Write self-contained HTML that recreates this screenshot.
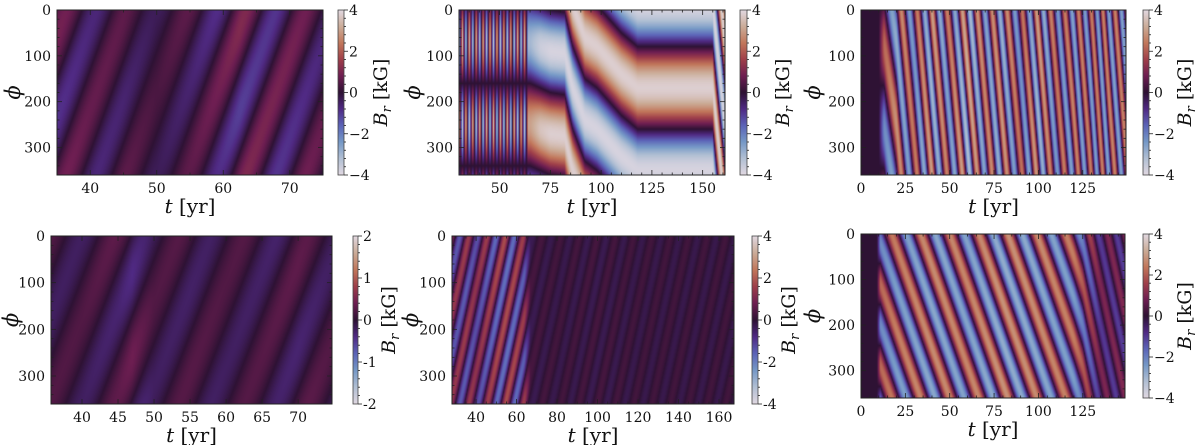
<!DOCTYPE html>
<html><head><meta charset="utf-8">
<style>
html,body{margin:0;padding:0;background:#fff;}
#fig{position:relative;width:1200px;height:445px;overflow:hidden;}
canvas{position:absolute;}
svg{position:absolute;left:0;top:0;}
text{font-family:"DejaVu Serif","Liberation Serif",serif;fill:#111;}
</style></head>
<body>
<div id="fig">
<svg id="ov" width="1200" height="445"></svg>
</div>
<script>
// ---------- Panel data ----------
// panel 1 (top-left)
const p1Times = [35, 40, 45, 50, 55, 60, 62.5, 65, 70, 75];
const p1Amp   = [0.9, 0.7, 0.6, 0.35, 0.6, 0.9, 1.1, 1.0, 0.9, 0.7];
const p1Phase = [1140, 940, 740, 540, 340, 140, 40, -60, -260, -460];
// panel 2 (top-middle)
const p2Times = [30,31.7,33.4,35.1,36.8,38.5,40.2,41.9,43.6,45.3,47,48.7,50.4,52.1,53.8,55.5,57.2,58.9,60.6,62.3,64,65,70,75,82,86,92,98,100,110,118,155,161,166];
const p2Amp   = [3.6,-3.6,3.6,-3.6,3.6,-3.6,3.6,-3.6,3.6,-3.6,3.6,-3.6,3.6,-3.6,3.6,-3.6,3.6,-3.6,3.6,-3.6,3.2,3,3.6,3.8,3.8,3.8,3.8,3.8,3.8,3.8,3.8,3.8,3.8,3.5];
const p2Phase = [250,250,250,250,250,250,250,250,250,250,250,250,250,250,250,250,250,250,250,250,250,250,260,270,275,350,420,440,450,500,530,530,790,860];
// panel 3 (top-right)
const p3Times = [0, 10, 13, 20, 30, 40, 50, 60, 70, 80, 90, 100, 110, 120, 130, 140, 150];
const p3Amp   = [0, 0, 2.2, 2.8, 2.4, 3.0, 2.5, 3.2, 2.6, 2.9, 2.3, 3.0, 2.4, 2.6, 2.5, 2.6, 2.6];
const p3Phase = [75, 75, 75, 250, 650, 1080, 1500, 1920, 2350, 2780, 3200, 3650, 4100, 4550, 5050, 5600, 6100];
// panel 4 (bottom-left)
const p4Times = [35, 40, 45, 47, 50, 55, 60, 65, 70, 75];
const p4Amp   = [0.22, 0.22, 0.3, 0.4, 0.22, 0.25, 0.22, 0.25, 0.3, 0.22];
const p4Phase = [1100, 900, 700, 620, 500, 300, 100, -100, -300, -500];
// panel 5 (bottom-middle)
const p5Times = [28, 35, 40, 45, 50, 55, 60, 64, 67, 80, 100, 120, 140, 168];
const p5Amp   = [1.4, 1.5, 1.3, 1.5, 1.7, 1.8, 1.7, 1.5, 0.3, 0.25, 0.3, 0.25, 0.25, 0.25];
const p5Phase = [530, 390, 290, 190, 90, -10, -110, -190, -250, -500, -900, -1300, -1700, -2250];
// panel 6 (bottom-right)
const p6Times = [0, 9, 11, 20, 40, 60, 80, 100, 120, 125, 135, 149];
const p6Amp   = [0, 0, 2.2, 2.5, 2.7, 2.6, 2.8, 2.7, 2.5, 2.0, 1.0, 1.1];
const p6Phase = [110, 110, 110, 210, 430, 650, 870, 1090, 1310, 1370, 1550, 1800];

const yTicks = [0, 100, 200, 300];
const cbTicks4 = [4, 2, 0, -2, -4];
const cbTicks2 = [2, 1, 0, -1, -2];

const panels = [
 {name:'panel-top-left', T:p1Times,A:p1Amp,P:p1Phase,m:1,vmax:4,x0:57,x1:323,y0:10,y1:175,t0:35,t1:75,xt:[40,50,60,70],xminor:2,cb:[338,344],cbt:cbTicks4,minus:'\u2212',phiX:14,titleX:380},
 {name:'panel-top-middle', T:p2Times,A:p2Amp,P:p2Phase,m:1,vmax:4,x0:459,x1:725,y0:10,y1:175,t0:30,t1:161,xt:[50,75,100,125,150],xminor:5,cb:[740,747],cbt:cbTicks4,minus:'\u2212',phiX:414,titleX:782},
 {name:'panel-top-right', T:p3Times,A:p3Amp,P:p3Phase,m:1,vmax:4,x0:861,x1:1126,y0:10,y1:175,t0:0,t1:149.4,xt:[0,25,50,75,100,125],xminor:5,cb:[1143,1149],cbt:cbTicks4,minus:'\u2212',phiX:814,titleX:1184},
 {name:'panel-bottom-left', T:p4Times,A:p4Amp,P:p4Phase,m:1,vmax:2,x0:51,x1:332,y0:236,y1:404,t0:35.7,t1:74.7,xt:[40,45,50,55,60,65,70],xminor:1,cb:[353,358],cbt:cbTicks2,minus:'-',phiX:12,titleX:388},
 {name:'panel-bottom-middle', T:p5Times,A:p5Amp,P:p5Phase,m:2,vmax:4,x0:452,x1:734,y0:236,y1:404,t0:28.1,t1:167.4,xt:[40,60,80,100,120,140,160],xminor:4,cb:[752,758],cbt:cbTicks4,minus:'-',phiX:412,titleX:788},
 {name:'panel-bottom-right', T:p6Times,A:p6Amp,P:p6Phase,m:2,vmax:4,x0:861,x1:1125,y0:234,y1:398,t0:0,t1:148.8,xt:[0,25,50,75,100,125],xminor:5,cb:[1143,1149],cbt:cbTicks4,minus:'\u2212',phiX:814,titleX:1184}
];

// twilight colormap stops
const cmap = [[226,217,226],[178,192,212],[118,153,199],[92,100,184],[80,42,132],[46,18,52],[110,30,82],[160,64,74],[194,120,92],[204,173,153],[226,217,226]];
function col(v){
  v=Math.max(0,Math.min(1,v)); const f=v*10, i=Math.min(9,Math.floor(f)), r=f-i;
  const a=cmap[i], b=cmap[i+1];
  return [a[0]+(b[0]-a[0])*r, a[1]+(b[1]-a[1])*r, a[2]+(b[2]-a[2])*r];
}
function interp(T,V,t){
  if(t<=T[0]) return V[0];
  for(let i=1;i<T.length;i++){ if(t<=T[i]){const r=(t-T[i-1])/(T[i]-T[i-1]); return V[i-1]+(V[i]-V[i-1])*r;} }
  return V[V.length-1];
}

const fig=document.getElementById('fig');
const svg=document.getElementById('ov');
const NS='http://www.w3.org/2000/svg';
function mk(tag,attrs,parent){const e=document.createElementNS(NS,tag);for(const k in attrs)e.setAttribute(k,attrs[k]);(parent||svg).appendChild(e);return e;}

panels.forEach(p=>{
  const w=p.x1-p.x0, h=p.y1-p.y0;
  const xs=t=>p.x0+(t-p.t0)/(p.t1-p.t0)*w;
  const ys=phi=>p.y0+phi/360*h;
  const c=document.createElement('canvas');
  
  
  c.width=w;c.height=h;c.style.left=p.x0+'px';c.style.top=p.y0+'px';
  const ctx=c.getContext('2d'); const img=ctx.createImageData(w,h);
  for(let i=0;i<w;i++){
    const t=p.t0+(i+0.5)/w*(p.t1-p.t0);
    const A=interp(p.T,p.A,t), P=interp(p.T,p.P,t);
    for(let j=0;j<h;j++){
      const phi=(j+0.5)/h*360;
      const v=A*Math.cos(p.m*2*Math.PI*(phi-P)/360);
      const cc=col(0.5+v/(2*p.vmax));
      const k=(j*w+i)*4; img.data[k]=cc[0];img.data[k+1]=cc[1];img.data[k+2]=cc[2];img.data[k+3]=255;
    }
  }
  ctx.putImageData(img,0,0); fig.insertBefore(c,svg);
  const cbh=p.y1-p.y0, cbw=p.cb[1]-p.cb[0];
  const cb=document.createElement('canvas');
  
  
  cb.width=cbw;cb.height=cbh;cb.style.left=p.cb[0]+'px';cb.style.top=p.y0+'px';
  const cx=cb.getContext('2d');
  for(let j=0;j<cbh;j++){const cc=col(1-(j+0.5)/cbh);cx.fillStyle=`rgb(${cc[0]|0},${cc[1]|0},${cc[2]|0})`;cx.fillRect(0,j,cbw,1);}
  fig.insertBefore(cb,svg);
  const g=mk('g',{});
  
  
  mk('rect',{x:p.x0,y:p.y0,width:w,height:h,fill:'none',stroke:'#222','stroke-width':1},g);
  mk('rect',{x:p.cb[0],y:p.y0,width:cbw,height:cbh,fill:'none',stroke:'#444','stroke-width':0.8},g);
  const step=p.xt[1]-p.xt[0];
  for(let t=p.xt[0]-step;t<=p.t1+1e-6;t+=step/p.xminor){
    if(t<p.t0-1e-6) continue;
    const major=p.xt.some(v=>Math.abs(v-t)<1e-6);
    const L=major?5:2.5, x=xs(t);
    mk('line',{x1:x,x2:x,y1:p.y1,y2:p.y1-L,stroke:'#222','stroke-width':0.8},g);
    mk('line',{x1:x,x2:x,y1:p.y0,y2:p.y0+L,stroke:'#222','stroke-width':0.8},g);
  }
  p.xt.forEach(t=>{const e=mk('text',{x:xs(t),y:p.y1+18,'font-size':14,'text-anchor':'middle'},g);e.textContent=t;
    
    });
  for(let phi=0;phi<=360;phi+=20){
    const major=phi%100===0, L=major?5:2.5, y=ys(phi);
    mk('line',{x1:p.x0,x2:p.x0+L,y1:y,y2:y,stroke:'#222','stroke-width':0.8},g);
    mk('line',{x1:p.x1,x2:p.x1-L,y1:y,y2:y,stroke:'#222','stroke-width':0.8},g);
  }
  yTicks.forEach(v=>{const e=mk('text',{x:p.x0-6,y:ys(v)+5,'font-size':14,'text-anchor':'end'},g);e.textContent=v;
    
    });
  const cby=v=>p.y0+(p.vmax-v)/(2*p.vmax)*cbh;
  for(let k=0;k<=20;k++){const v=p.vmax-k*p.vmax/10, y=cby(v), major=k%5===0;
    mk('line',{x1:p.cb[1],x2:p.cb[1]+(major?4:2),y1:y,y2:y,stroke:'#222','stroke-width':0.8},g);}
  p.cbt.forEach(v=>{const e=mk('text',{x:p.cb[1]+5,y:cby(v)+5,'font-size':14},g);
    e.textContent=(v<0?p.minus+Math.abs(v):String(v));
    
    });
  const ct=mk('text',{x:0,y:0,'font-size':19,'text-anchor':'middle',transform:`translate(${p.titleX+7},${(p.y0+p.y1)/2}) rotate(-90)`},g);
  ct.innerHTML='<tspan font-style="italic">B</tspan><tspan font-style="italic" font-size="13" dy="4">r</tspan><tspan dy="-4"> [kG]</tspan>';
  
  
  const xt=mk('text',{x:(p.x0+p.x1)/2,y:p.y1+38,'font-size':20,'text-anchor':'middle'},g);
  xt.innerHTML='<tspan font-style="italic">t</tspan> [yr]';
  
  
  const yt=mk('text',{x:0,y:0,'font-size':21,'text-anchor':'middle','font-style':'italic',transform:`translate(${p.phiX+6},${(p.y0+p.y1)/2}) rotate(-90)`},g);
  yt.textContent='\u03d5';
  
  
});
</script>
</body></html>
